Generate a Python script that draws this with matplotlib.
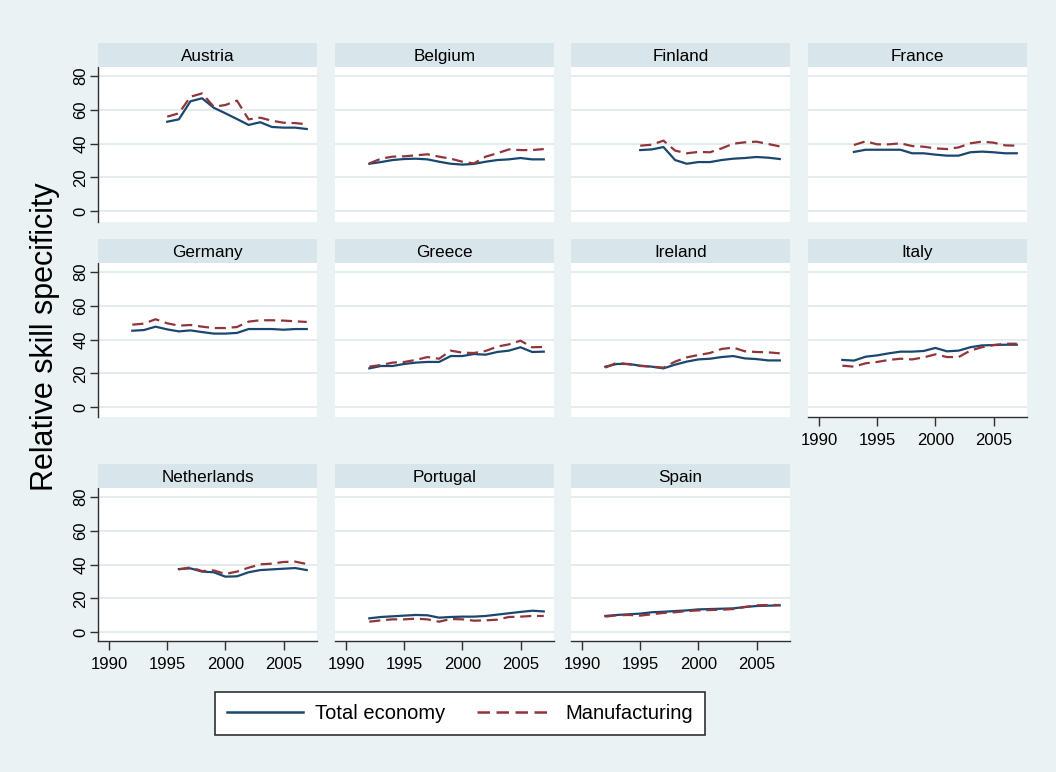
import matplotlib
matplotlib.use("Agg")
import matplotlib.pyplot as plt
from matplotlib import font_manager
from matplotlib.lines import Line2D

# ---------------------------------------------------------------- data
countries = ["Austria", "Belgium", "Finland", "France",
             "Germany", "Greece", "Ireland", "Italy",
             "Netherlands", "Portugal", "Spain"]

first_year = {"Austria": 1995, "Belgium": 1992, "Finland": 1995, "France": 1993,
              "Germany": 1992, "Greece": 1992, "Ireland": 1992, "Italy": 1992,
              "Netherlands": 1996, "Portugal": 1992, "Spain": 1992}

austria_total = [52.9, 54.3, 65.0, 66.8, 61.2, 57.9, 54.5, 51.0, 52.6, 49.8, 49.4, 49.4, 48.6]
austria_manuf = [55.9, 57.9, 67.7, 69.7, 61.8, 62.8, 65.4, 54.3, 55.3, 53.5, 52.3, 52.1, 51.4]

belgium_total = [28.0, 29.0, 30.2, 30.8, 31.0, 30.6, 29.2, 28.0, 27.5, 27.9, 29.2, 30.2, 30.6, 31.4, 30.6, 30.6]
belgium_manuf = [28.2, 31.0, 32.2, 32.4, 33.0, 33.6, 32.2, 31.0, 29.2, 28.2, 32.2, 34.2, 36.5, 36.1, 36.1, 36.7]

finland_total = [36.1, 36.5, 37.9, 30.2, 28.0, 29.0, 29.0, 30.2, 31.0, 31.4, 32.0, 31.6, 30.8]
finland_manuf = [38.7, 39.3, 41.7, 35.8, 34.2, 35.0, 34.8, 37.1, 39.9, 40.7, 41.1, 39.7, 38.3]

france_total = [35.0, 36.3, 36.3, 36.3, 36.3, 34.2, 34.2, 33.4, 32.8, 32.8, 34.8, 35.2, 34.8, 34.2, 34.2]
france_manuf = [39.1, 41.3, 39.5, 39.5, 40.1, 38.5, 38.1, 37.1, 36.7, 37.7, 40.1, 41.1, 40.5, 38.9, 38.7]

germany_total = [45.2, 45.6, 47.6, 46.0, 44.8, 45.4, 44.4, 43.5, 43.5, 43.9, 46.2, 46.2, 46.2, 45.8, 46.2, 46.2]
germany_manuf = [48.8, 49.4, 52.0, 49.6, 48.2, 48.6, 47.6, 46.8, 46.8, 47.4, 50.6, 51.4, 51.4, 51.2, 50.8, 50.4]

greece_total = [22.9, 24.3, 24.3, 25.5, 26.3, 26.7, 26.7, 30.2, 30.2, 31.4, 31.0, 32.6, 33.4, 35.4, 32.6, 32.8]
greece_manuf = [23.9, 24.9, 26.3, 26.7, 27.9, 29.6, 28.6, 33.4, 32.2, 32.0, 33.2, 35.8, 37.1, 39.3, 35.4, 35.6]

ireland_total = [23.9, 25.5, 25.5, 24.5, 23.9, 22.9, 25.1, 26.9, 28.2, 28.6, 29.6, 30.2, 28.8, 28.4, 27.6, 27.6]
ireland_manuf = [23.3, 26.3, 25.3, 24.3, 23.9, 23.3, 26.9, 29.4, 30.8, 32.0, 34.4, 35.2, 33.0, 32.6, 32.4, 31.8]

italy_total = [27.9, 27.5, 29.8, 30.6, 31.8, 32.8, 32.8, 33.2, 35.0, 33.0, 33.4, 35.4, 36.5, 36.7, 36.9, 36.9]
italy_manuf = [24.5, 23.9, 25.9, 26.7, 27.9, 28.6, 28.2, 29.4, 31.2, 29.6, 29.6, 33.4, 35.4, 36.7, 37.5, 37.5]

netherlands_total = [37.3, 37.7, 35.8, 35.4, 32.8, 33.0, 35.4, 36.7, 37.1, 37.5, 37.9, 36.7]
netherlands_manuf = [37.1, 38.3, 36.1, 36.5, 34.4, 35.8, 38.1, 40.1, 40.5, 41.5, 41.7, 40.3]

portugal_total = [8.1, 8.9, 9.3, 9.7, 10.1, 9.9, 8.5, 8.9, 9.1, 9.1, 9.5, 10.3, 11.1, 11.9, 12.6, 12.2]
portugal_manuf = [6.1, 6.9, 7.5, 7.5, 7.9, 7.5, 6.1, 7.7, 7.5, 6.7, 6.9, 7.3, 8.9, 9.1, 9.5, 9.5]

spain_total = [9.5, 10.1, 10.5, 10.9, 11.7, 12.0, 12.4, 12.8, 13.4, 13.6, 13.8, 14.0, 14.8, 15.4, 15.6, 15.8]
spain_manuf = [9.1, 9.9, 10.1, 9.7, 10.5, 11.3, 11.7, 12.4, 12.8, 13.0, 13.2, 13.6, 14.8, 15.8, 16.0, 16.0]

series = {
    "Austria": (austria_total, austria_manuf),
    "Belgium": (belgium_total, belgium_manuf),
    "Finland": (finland_total, finland_manuf),
    "France": (france_total, france_manuf),
    "Germany": (germany_total, germany_manuf),
    "Greece": (greece_total, greece_manuf),
    "Ireland": (ireland_total, ireland_manuf),
    "Italy": (italy_total, italy_manuf),
    "Netherlands": (netherlands_total, netherlands_manuf),
    "Portugal": (portugal_total, portugal_manuf),
    "Spain": (spain_total, spain_manuf),
}

series_labels = ["Total economy", "Manufacturing"]
y_ticks = [0, 20, 40, 60, 80]
x_ticks = [1990, 1995, 2000, 2005]
y_title = "Relative skill specificity"

# ---------------------------------------------------------------- style
installed = {f.name for f in font_manager.fontManager.ttflist}
base_font = "Liberation Sans" if "Liberation Sans" in installed else "DejaVu Sans"
legend_font = "Liberation Sans Narrow" if "Liberation Sans Narrow" in installed else base_font
plt.rcParams["font.family"] = [base_font, "DejaVu Sans"]

BG = "#EAF2F3"
STRIP = "#D8E5EA"
GRID = "#E3ECEE"
AXIS = "#303030"
C_TOTAL = "#1A476F"
C_MANUF = "#90353B"
DASH = (0, (5, 2.6))

W, H = 1056, 772
fig = plt.figure(figsize=(W / 100, H / 100), dpi=100, facecolor=BG)


def frac(left, top, width, height):
    return [left / W, 1 - (top + height) / H, width / W, height / H]


col_left = [98, 335, 571, 808]
col_width = 219
row_top = [67, 263, 488]
row_height = [155, 154, 153]
row_zero = [211, 407, 632]       # pixel row of y = 0
px_per_unit = 1.6875
strip_h = 24

x_left, x_right = 1989.05, 2007.88

with_xaxis = {"Italy", "Netherlands", "Portugal", "Spain"}

for i, name in enumerate(countries):
    r, c = divmod(i, 4)
    top, h = row_top[r], row_height[r]
    ax = fig.add_axes(frac(col_left[c], top, col_width, h))
    ax.set_facecolor("white")

    total, manuf = series[name]
    years = list(range(first_year[name], first_year[name] + len(total)))
    ax.plot(years, total, color=C_TOTAL, lw=1.6, solid_joinstyle="round", zorder=3)
    ax.plot(years, manuf, color=C_MANUF, lw=1.6, linestyle=DASH, zorder=3)

    ymin = -(top + h - row_zero[r]) / px_per_unit
    ymax = (row_zero[r] - top) / px_per_unit
    ax.set_ylim(ymin, ymax)
    ax.set_xlim(x_left, x_right)

    ax.set_yticks(y_ticks)
    ax.yaxis.grid(True, color=GRID, lw=1.4, zorder=0)
    ax.set_axisbelow(True)
    for s in ("top", "right"):
        ax.spines[s].set_visible(False)

    if c == 0:
        ax.spines["left"].set_color(AXIS)
        ax.spines["left"].set_linewidth(1.0)
        ax.tick_params(axis="y", length=6, width=1, color=AXIS, pad=1,
                       labelsize=12, labelrotation=90)
        for lab in ax.get_yticklabels():
            lab.set_va("center")
    else:
        ax.spines["left"].set_visible(False)
        ax.tick_params(axis="y", length=0, labelleft=False)

    ax.set_xticks(x_ticks)
    if name in with_xaxis:
        ax.spines["bottom"].set_color(AXIS)
        ax.spines["bottom"].set_linewidth(1.0)
        ax.tick_params(axis="x", length=6.5, width=1, color=AXIS, pad=5, labelsize=12)
    else:
        ax.spines["bottom"].set_visible(False)
        ax.tick_params(axis="x", length=0, labelbottom=False)

    # panel header strip
    sax = fig.add_axes(frac(col_left[c], top - strip_h, col_width, strip_h))
    sax.set_facecolor(STRIP)
    sax.set_xticks([])
    sax.set_yticks([])
    for s in sax.spines.values():
        s.set_visible(False)
    sax.text(0.5, 0.45, name, ha="center", va="center", fontsize=12.3,
             transform=sax.transAxes)

fig.text(45 / W, 1 - 337 / H, y_title, rotation=90, ha="center", va="center",
         fontsize=22)

handles = [Line2D([], [], color=C_TOTAL, lw=1.8),
           Line2D([], [], color=C_MANUF, lw=1.8, linestyle=DASH)]
narrow = legend_font != base_font
leg = fig.legend(handles, series_labels, loc="center",
                 bbox_to_anchor=(460 / W, 1 - 713.5 / H), ncol=2,
                 frameon=True, fancybox=False, framealpha=1,
                 facecolor="white", edgecolor=AXIS,
                 prop={"family": [legend_font, "DejaVu Sans"],
                       "size": 17.5 if narrow else 14.5},
                 borderpad=0.6, handlelength=3.8 if not narrow else 3.15,
                 handletextpad=0.6, columnspacing=1.55)
leg.get_frame().set_linewidth(1.2)

fig.savefig("out.png", dpi=100, facecolor=BG)
